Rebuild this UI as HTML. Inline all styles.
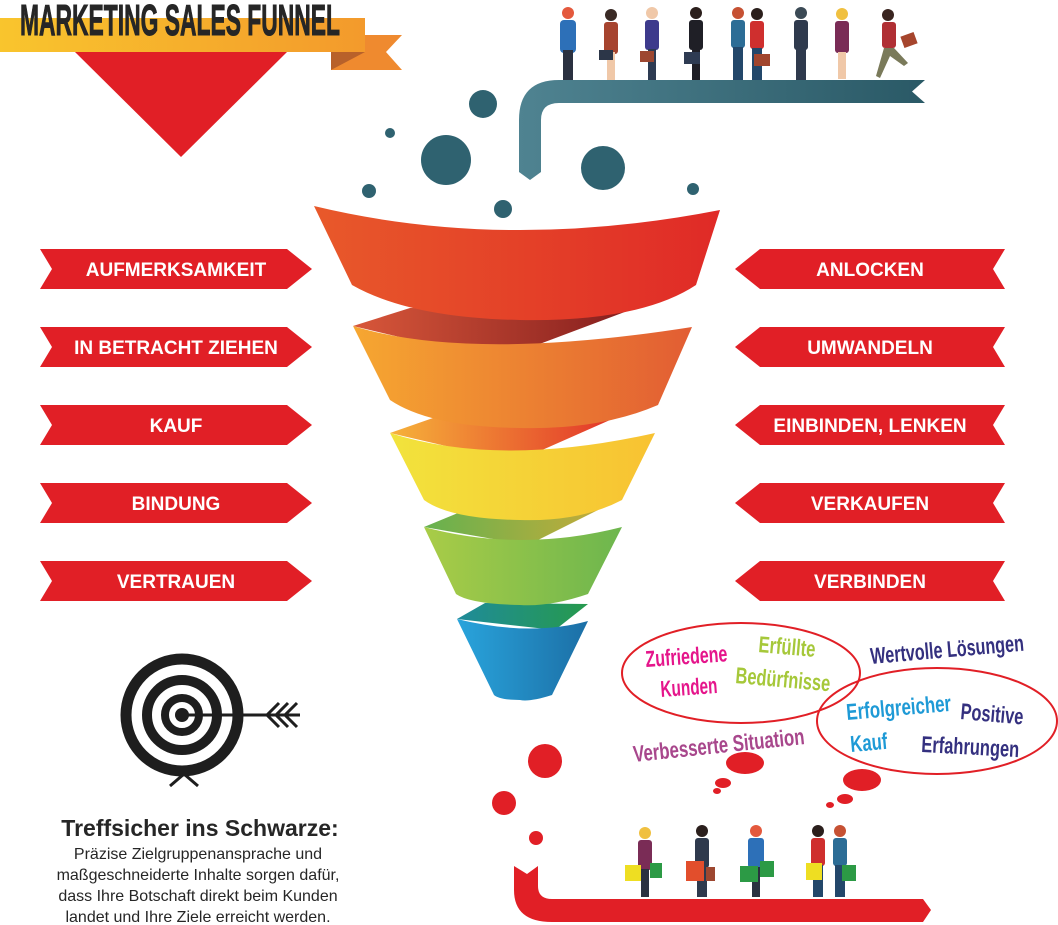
<!DOCTYPE html>
<html><head><meta charset="utf-8"><style>
html,body{margin:0;padding:0;background:#fff;width:1058px;height:925px;overflow:hidden}
svg{display:block}
.lbl{font-family:"Liberation Sans",sans-serif;font-weight:bold;font-size:19px;fill:#fff}
.cw{font-family:"Liberation Sans Narrow","Liberation Sans",sans-serif;font-weight:bold}
</style></head><body>
<svg width="1058" height="925" viewBox="0 0 1058 925" xmlns="http://www.w3.org/2000/svg">
<defs>
<linearGradient id="rib" x1="0" x2="1"><stop offset="0" stop-color="#f9c52d"/><stop offset="1" stop-color="#f39a2c"/></linearGradient>
<linearGradient id="b1" x1="0" x2="1"><stop offset="0" stop-color="#e8592a"/><stop offset="1" stop-color="#e02a27"/></linearGradient>
<linearGradient id="b2" x1="0" x2="1"><stop offset="0" stop-color="#f6a731"/><stop offset="1" stop-color="#e25d33"/></linearGradient>
<linearGradient id="b3" x1="0" x2="1"><stop offset="0" stop-color="#f2e33c"/><stop offset="1" stop-color="#f8c232"/></linearGradient>
<linearGradient id="b4" x1="0" x2="1"><stop offset="0" stop-color="#a9cc47"/><stop offset="1" stop-color="#6db64e"/></linearGradient>
<linearGradient id="b5" x1="0" x2="1"><stop offset="0" stop-color="#29a4dc"/><stop offset="1" stop-color="#1c6fa6"/></linearGradient>
<linearGradient id="t1" x1="0" x2="1"><stop offset="0" stop-color="#d8573a"/><stop offset="1" stop-color="#851e1e"/></linearGradient>
<linearGradient id="t2" x1="0" x2="1"><stop offset="0" stop-color="#f6b23a"/><stop offset="1" stop-color="#e3372a"/></linearGradient>
<linearGradient id="t3" x1="0" x2="1"><stop offset="0" stop-color="#65b24f"/><stop offset="1" stop-color="#c1ab3a"/></linearGradient>
<linearGradient id="t4" x1="0" x2="1"><stop offset="0" stop-color="#1f8b9a"/><stop offset="1" stop-color="#269a4d"/></linearGradient>
<linearGradient id="teal" x1="0" x2="1"><stop offset="0" stop-color="#4f8391"/><stop offset="1" stop-color="#2a5966"/></linearGradient>
</defs>

<!-- title ribbon -->
<polygon points="331,35 402,35 386,52 402,70 331,70" fill="#ef8a2f"/>
<polygon points="331,52 365,52 331,70" fill="#b8612a"/>
<rect x="0" y="18" width="365" height="34" fill="url(#rib)"/>
<polygon points="75,52 287,52 181,157" fill="#e11f26"/>
<text x="20" y="35" class="cw" font-size="44" fill="#262626" stroke="#262626" stroke-width="1" textLength="320" lengthAdjust="spacingAndGlyphs">MARKETING SALES FUNNEL</text>

<!-- teal arrow -->
<path d="M519,172 L519,120 Q519,80 559,80 L925,80 L912,91.5 L925,103 L559,103 Q541,103 541,120 L541,172 L530,180 Z" fill="url(#teal)"/>
<g fill="#2f6270">
<circle cx="483" cy="104" r="14"/><circle cx="390" cy="133" r="5"/><circle cx="446" cy="160" r="25"/>
<circle cx="603" cy="168" r="22"/><circle cx="369" cy="191" r="7"/><circle cx="503" cy="209" r="9"/><circle cx="693" cy="189" r="6"/>
</g>

<!-- people top -->
<g>
<g transform="translate(568,5)"><circle cx="0" cy="8" r="6" fill="#e4593d"/><rect x="-8" y="15" width="16" height="33" rx="4" fill="#2d70b8"/><rect x="-5" y="45" width="10" height="30" fill="#2a3140"/></g>
<g transform="translate(611,8)"><circle cx="0" cy="7" r="6" fill="#3a2a25"/><rect x="-7" y="14" width="14" height="32" rx="3" fill="#a6442f"/><rect x="-4" y="44" width="8" height="28" fill="#f0c8a8"/><rect x="-12" y="42" width="14" height="10" fill="#2c3648"/></g>
<g transform="translate(652,5)"><circle cx="0" cy="8" r="6" fill="#f0c8a8"/><rect x="-7" y="15" width="14" height="30" rx="3" fill="#3d3a8c"/><rect x="-4" y="44" width="8" height="31" fill="#2d3b52"/><rect x="-12" y="46" width="14" height="11" fill="#9d4730"/></g>
<g transform="translate(696,5)"><circle cx="0" cy="8" r="6" fill="#2b1f1c"/><rect x="-7" y="15" width="14" height="30" rx="3" fill="#1f1f26"/><rect x="-4" y="44" width="8" height="31" fill="#1f1f26"/><rect x="-12" y="47" width="16" height="12" fill="#2e3b52"/></g>
<g transform="translate(738,5)"><circle cx="0" cy="8" r="6" fill="#c65133"/><rect x="-7" y="15" width="14" height="28" rx="3" fill="#2c6d96"/><rect x="-5" y="42" width="10" height="33" fill="#23476a"/></g>
<g transform="translate(757,6)"><circle cx="0" cy="8" r="6" fill="#2b1f1c"/><rect x="-7" y="15" width="14" height="28" rx="3" fill="#cf2f2e"/><rect x="-5" y="42" width="10" height="32" fill="#23476a"/><rect x="-3" y="48" width="16" height="12" fill="#a1452d"/></g>
<g transform="translate(801,5)"><circle cx="0" cy="8" r="6" fill="#3b4a55"/><rect x="-7" y="15" width="14" height="30" rx="3" fill="#2f3a4d"/><rect x="-5" y="44" width="10" height="31" fill="#2f3a4d"/></g>
<g transform="translate(842,6)"><circle cx="0" cy="8" r="6" fill="#f0c040"/><rect x="-7" y="15" width="14" height="32" rx="3" fill="#7a2c56"/><rect x="-4" y="46" width="8" height="27" fill="#f0c8a8"/></g>
<g transform="translate(888,8)"><circle cx="0" cy="7" r="6" fill="#3a2520"/><rect x="-6" y="14" width="14" height="26" rx="3" fill="#b02f34"/><polygon points="-4,40 6,40 20,55 16,58 2,48 -8,70 -12,68" fill="#7a7a5a"/><rect x="14" y="26" width="14" height="12" fill="#a6452d" transform="rotate(-20 21 32)"/></g>
</g>

<!-- funnel -->
<polygon points="353,326 410,308 630,310 497,360" fill="url(#t1)"/>
<polygon points="390,433 433,418 610,420 515,462" fill="url(#t2)"/>
<polygon points="424,527 458,513 598,510 528,545" fill="url(#t3)"/>
<polygon points="457,619 485,603 588,604 555,630" fill="url(#t4)"/>
<path d="M314,206 Q505,252 720,210 L696,285 Q640,322 520,320 Q410,318 352,285 Z" fill="url(#b1)"/>
<path d="M353,326 Q470,362 692,327 L658,405 Q600,430 520,428 Q430,427 390,400 Z" fill="url(#b2)"/>
<path d="M390,433 Q500,468 655,433 L622,500 Q580,522 520,520 Q450,519 424,500 Z" fill="url(#b3)"/>
<path d="M424,527 Q520,553 622,527 L588,594 Q550,607 520,605 Q470,604 456,594 Z" fill="url(#b4)"/>
<path d="M457,619 Q530,637 588,621 L552,695 Q530,702 520,700 Q500,700 494,695 Z" fill="url(#b5)"/>

<!-- labels -->
<g fill="#e11f26">
<polygon points="40,249 287,249 312,269 287,289 40,289 52,269"/>
<polygon points="40,327 287,327 312,347 287,367 40,367 52,347"/>
<polygon points="40,405 287,405 312,425 287,445 40,445 52,425"/>
<polygon points="40,483 287,483 312,503 287,523 40,523 52,503"/>
<polygon points="40,561 287,561 312,581 287,601 40,601 52,581"/>
<polygon points="760,249 1005,249 993,269 1005,289 760,289 735,269"/>
<polygon points="760,327 1005,327 993,347 1005,367 760,367 735,347"/>
<polygon points="760,405 1005,405 993,425 1005,445 760,445 735,425"/>
<polygon points="760,483 1005,483 993,503 1005,523 760,523 735,503"/>
<polygon points="760,561 1005,561 993,581 1005,601 760,601 735,581"/>
</g>
<g class="lbl" text-anchor="middle">
<text x="176" y="276">AUFMERKSAMKEIT</text>
<text x="176" y="354">IN BETRACHT ZIEHEN</text>
<text x="176" y="432">KAUF</text>
<text x="176" y="510">BINDUNG</text>
<text x="176" y="588">VERTRAUEN</text>
<text x="870" y="276">ANLOCKEN</text>
<text x="870" y="354">UMWANDELN</text>
<text x="870" y="432">EINBINDEN, LENKEN</text>
<text x="870" y="510">VERKAUFEN</text>
<text x="870" y="588">VERBINDEN</text>
</g>

<!-- target -->
<g fill="none" stroke="#1e1e1e">
<circle cx="182" cy="715" r="56" stroke-width="11"/>
<circle cx="182" cy="715" r="35" stroke-width="10"/>
<circle cx="182" cy="715" r="17" stroke-width="8"/>
<line x1="182" y1="715" x2="300" y2="715" stroke-width="3"/>
<path d="M279,703 L267,715 L279,727 M288,703 L276,715 L288,727 M297,703 L285,715 L297,727" stroke-width="3"/>
<path d="M170,786 L184,774 L198,786" stroke-width="3"/>
</g>
<circle cx="182" cy="715" r="7" fill="#1e1e1e"/>
<text x="200" y="836" text-anchor="middle" font-family="Liberation Sans,sans-serif" font-weight="bold" font-size="23" fill="#262626">Treffsicher ins Schwarze:</text>
<g font-family="Liberation Sans,sans-serif" font-size="16" fill="#262626" text-anchor="middle">
<text x="198" y="859">Präzise Zielgruppenansprache und</text>
<text x="198" y="880">maßgeschneiderte Inhalte sorgen dafür,</text>
<text x="198" y="901">dass Ihre Botschaft direkt beim Kunden</text>
<text x="198" y="922">landet und Ihre Ziele erreicht werden.</text>
</g>

<!-- ellipses & words -->
<ellipse cx="741" cy="673" rx="119" ry="50" fill="none" stroke="#e11f26" stroke-width="2"/>
<ellipse cx="937" cy="721" rx="120" ry="53" fill="none" stroke="#e11f26" stroke-width="2"/>
<g class="cw" font-size="23" lengthAdjust="spacingAndGlyphs">
<text x="646" y="667" fill="#e5158b" transform="rotate(-4 646 667)" textLength="82" lengthAdjust="spacingAndGlyphs">Zufriedene</text>
<text x="661" y="697" fill="#e5158b" transform="rotate(-4 661 697)" textLength="57" lengthAdjust="spacingAndGlyphs">Kunden</text>
<text x="758" y="652" fill="#a6c83a" transform="rotate(5 758 652)" textLength="57" lengthAdjust="spacingAndGlyphs">Erfüllte</text>
<text x="735" y="683" fill="#a6c83a" transform="rotate(5 735 683)" textLength="95" lengthAdjust="spacingAndGlyphs">Bedürfnisse</text>
<text x="871" y="664" fill="#34307f" transform="rotate(-5 871 664)" textLength="154" lengthAdjust="spacingAndGlyphs">Wertvolle Lösungen</text>
<text x="847" y="720" fill="#1e9ad6" transform="rotate(-5 847 720)" textLength="105" lengthAdjust="spacingAndGlyphs">Erfolgreicher</text>
<text x="851" y="752" fill="#1e9ad6" transform="rotate(-5 851 752)" textLength="37" lengthAdjust="spacingAndGlyphs">Kauf</text>
<text x="960" y="719" fill="#34307f" transform="rotate(5 960 719)" textLength="63" lengthAdjust="spacingAndGlyphs">Positive</text>
<text x="921" y="752" fill="#34307f" transform="rotate(3 921 752)" textLength="98" lengthAdjust="spacingAndGlyphs">Erfahrungen</text>
<text x="634" y="762" fill="#a8478c" transform="rotate(-6 634 762)" textLength="172" lengthAdjust="spacingAndGlyphs">Verbesserte Situation</text>
</g>

<!-- red dots -->
<g fill="#e11f26">
<circle cx="545" cy="761" r="17"/><circle cx="504" cy="803" r="12"/><circle cx="536" cy="838" r="7"/>
<ellipse cx="745" cy="763" rx="19" ry="11"/><ellipse cx="723" cy="783" rx="8" ry="5"/><ellipse cx="717" cy="791" rx="4" ry="3"/>
<ellipse cx="862" cy="780" rx="19" ry="11"/><ellipse cx="845" cy="799" rx="8" ry="5"/><ellipse cx="830" cy="805" rx="4" ry="3"/>
<path d="M514,866 L527,874 L538,866 L538,886 Q538,899 552,899 L923,899 L931,910 L923,922 L552,922 Q514,922 514,890 Z"/>
</g>

<!-- people bottom -->
<g>
<g transform="translate(645,825)"><circle cx="0" cy="8" r="6" fill="#f0c040"/><rect x="-7" y="15" width="14" height="30" rx="3" fill="#7a2c56"/><rect x="-4" y="44" width="8" height="28" fill="#2a3140"/><rect x="-20" y="40" width="16" height="16" fill="#eede22"/><rect x="5" y="38" width="12" height="15" fill="#2c9a45"/></g>
<g transform="translate(702,823)"><circle cx="0" cy="8" r="6" fill="#2b1f1c"/><rect x="-7" y="15" width="14" height="30" rx="3" fill="#2f3a4d"/><rect x="-5" y="44" width="10" height="30" fill="#2f3a4d"/><rect x="-16" y="38" width="18" height="20" fill="#e24e2c"/><rect x="4" y="44" width="9" height="14" fill="#9d4730"/></g>
<g transform="translate(756,823)"><circle cx="0" cy="8" r="6" fill="#e4593d"/><rect x="-8" y="15" width="16" height="30" rx="3" fill="#2d70b8"/><rect x="-4" y="44" width="8" height="30" fill="#2a3140"/><rect x="-16" y="43" width="18" height="16" fill="#2c9a45"/><rect x="4" y="38" width="14" height="16" fill="#2c9a45"/></g>
<g transform="translate(818,823)"><circle cx="0" cy="8" r="6" fill="#2b1f1c"/><rect x="-7" y="15" width="14" height="28" rx="3" fill="#cf2f2e"/><rect x="-5" y="42" width="10" height="32" fill="#23476a"/><rect x="-12" y="40" width="16" height="17" fill="#eede22"/></g>
<g transform="translate(840,823)"><circle cx="0" cy="8" r="6" fill="#c65133"/><rect x="-7" y="15" width="14" height="28" rx="3" fill="#2c6d96"/><rect x="-5" y="42" width="10" height="32" fill="#23476a"/><rect x="2" y="42" width="14" height="16" fill="#2c9a45"/></g>
</g>
</svg>
</body></html>
